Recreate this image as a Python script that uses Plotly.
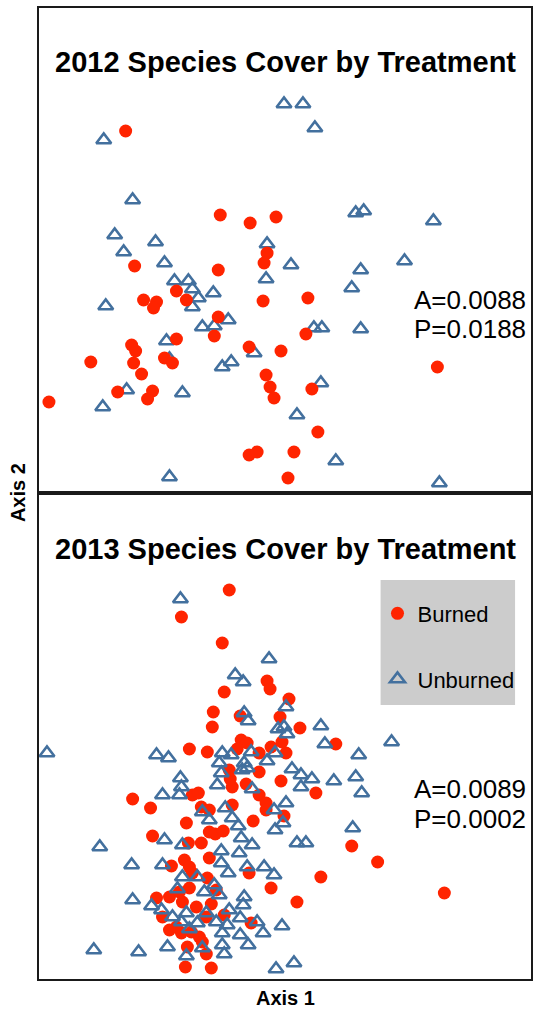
import plotly.graph_objects as go

# ---- 2012 NMDS scores (Axis 1, Axis 2) ----
burned_2012_x = [-1.60, -0.65, -0.35, -0.09, -0.18, -0.21, -1.51, -0.67, -1.09, -1.42, -1.29, -1.32,
                 -0.99, -0.22, -0.67, -0.71, -1.09, -1.54, -1.50, -1.52, -1.95, -1.21, -1.13, -0.36,
                 -0.04, -1.44, -0.19, -0.15, -0.11, -1.68, -1.33, -1.38, -2.37, -0.36, -0.28, 0.03,
                 0.23, 0.21, 1.53, 0.27, 0.33, 0.09]
burned_2012_y = [1.19, 0.35, 0.27, 0.33, -0.03, -0.13, -0.16, -0.20, -0.41, -0.50, -0.52, -0.58,
                 -0.50, -0.51, -0.67, -0.86, -0.89, -0.95, -1.01, -1.13, -1.12, -1.08, -1.13, -0.97,
                 -1.01, -1.24, -1.25, -1.37, -1.48, -1.42, -1.41, -1.49, -1.52, -2.05, -2.02, -2.28,
                 -0.48, -0.84, -1.17, -1.39, -1.82, -2.02]

unburned_2012_x = [-1.82, -0.01, 0.18, 0.30, -1.53, -1.71, -1.30, -0.18, -1.62, -1.21, 0.71, 0.79,
                   1.49, 0.06, 0.76, 1.20, -0.19, -1.11, -0.97, -0.93, -0.87, -0.93, -0.72, -1.80,
                   -0.83, -0.71, -0.57, -1.19, -1.16, -0.31, -0.63, -0.54, -1.59, -1.03, -1.83, -1.16,
                   0.67, 0.29, 0.37, 0.76, 0.36, 0.12, 0.51, 1.55]
unburned_2012_y = [1.10, 1.46, 1.46, 1.22, 0.50, 0.15, 0.08, 0.06, -0.02, -0.13, 0.37, 0.39,
                   0.29, -0.15, -0.20, -0.11, -0.29, -0.31, -0.31, -0.39, -0.48, -0.57, -0.43, -0.56,
                   -0.77, -0.76, -0.70, -0.91, -1.09, -1.03, -1.17, -1.12, -1.40, -1.43, -1.57, -2.27,
                   -0.38, -0.78, -0.78, -0.79, -1.33, -1.65, -2.11, -2.33]

# ---- 2013 NMDS scores (Axis 1, Axis 2) ----
burned_2013_x = [-0.56, -1.04, -0.63, -0.18, -0.15, -0.61, -0.72, -0.73, 0.04, -0.05, -0.45, -0.44,
                 -0.38, -0.48, -0.96, -0.78, -0.26, -0.14, -0.03, 0.01, 0.15, 0.51, -0.56, -0.26,
                 -0.53, -0.39, -0.04, 0.31, -0.26, -0.19, -0.55, -1.53, -1.35, -1.33, -0.93, -0.87,
                 -0.84, -0.76, -0.99, -0.97, -0.84, -0.76, -0.70, -0.62, -0.53, -0.32, -0.19, -0.01,
                 -1.14, -1.01, -0.96, -0.93, -0.76, -0.78, -0.69, -0.36, -0.14, 0.12, 0.36, 0.67,
                 0.93, 1.60, -1.29, -1.16, -1.03, -0.96, -0.89, -0.74, -1.23, -1.09, -1.16, -1.04,
                 -0.94, -0.86, -0.83, -0.98, -0.79, -0.61, -0.34, -1.00, -0.74, -0.79, -1.06]
burned_2013_y = [1.46, 1.19, 0.93, 0.55, 0.47, 0.44, 0.24, 0.09, 0.37, 0.19, 0.20, -0.04,
                 -0.07, -0.13, -0.13, -0.16, -0.17, -0.11, -0.06, -0.17, 0.08, -0.08, -0.34, -0.36,
                 -0.51, -0.48, -0.45, -0.57, -0.59, -0.67, -0.43, -0.63, -0.72, -1.00, -0.59, -0.57,
                 -0.71, -0.74, -0.87, -1.07, -1.07, -0.96, -0.98, -0.95, -0.69, -0.85, -0.74, -0.80,
                 -1.30, -1.24, -1.31, -1.37, -1.22, -1.42, -1.54, -1.37, -1.52, -1.66, -1.41, -1.10,
                 -1.26, -1.57, -1.62, -1.61, -1.66, -1.52, -1.71, -1.68, -1.81, -1.91, -1.94, -1.97,
                 -1.96, -2.01, -2.06, -2.11, -2.18, -1.79, -1.87, -2.31, -2.32, -1.81, -1.56]

unburned_2013_x = [-2.39, -1.05, -0.16, -0.50, -0.42, -0.41, -0.37, 0.01, -0.07, -0.01, 0.02, 0.36,
                   0.40, 0.74, 1.07, -1.29, -1.17, -0.63, -0.54, -0.34, -0.18, -0.10, -0.66, -0.41,
                   -0.38, -0.64, -0.68, -1.05, -1.04, -1.06, -1.23, -0.43, 0.07, 0.16, 0.16, 0.27,
                   0.49, 0.71, 0.77, 0.01, -0.02, -0.10, -0.11, 0.68, 0.12, 0.21, -0.03, 0.09,
                   -0.09, -1.86, -1.54, -1.23, -1.21, -1.03, -0.83, -0.76, -0.60, -0.53, -0.47, -0.44,
                   -0.33, -0.33, -0.46, -0.64, -0.64, -0.57, -0.38, -0.21, -0.11, -0.88, -1.03, -1.08,
                   -0.81, -0.71, -0.66, -0.41, -0.42, -0.45, -0.28, -0.22, -0.45, -0.37, -1.53, -1.34,
                   -1.24, -1.13, -1.04, -0.99, -0.88, -0.96, -0.79, -0.69, -0.58, -0.56, -0.63, -0.63,
                   -0.61, -0.83, -0.99, -1.18, -1.47, -1.92]
unburned_2013_y = [-0.17, 1.37, 0.77, 0.61, 0.54, 0.23, 0.15, 0.29, 0.07, 0.09, 0.02, 0.10,
                   -0.08, -0.19, -0.06, -0.19, -0.22, -0.17, -0.19, -0.16, -0.25, -0.17, -0.27, -0.27,
                   -0.32, -0.37, -0.49, -0.42, -0.51, -0.59, -0.59, -0.34, -0.33, -0.39, -0.51, -0.43,
                   -0.45, -0.41, -0.57, -0.67, -0.87, -0.94, -0.74, -0.92, -1.07, -1.07, -1.90, -2.27,
                   -2.33, -1.11, -1.29, -1.29, -1.04, -1.09, -0.76, -0.84, -0.72, -0.82, -0.90, -1.02,
                   -0.53, -1.09, -1.17, -1.15, -1.27, -1.37, -1.31, -1.31, -1.39, -1.41, -1.41, -1.53,
                   -1.56, -1.49, -1.59, -1.61, -1.69, -1.82, -1.86, -1.97, -1.99, -2.09, -1.64, -1.70,
                   -1.74, -1.81, -1.86, -1.77, -1.87, -1.93, -1.77, -1.86, -1.89, -1.74, -1.97, -2.09,
                   -2.18, -2.12, -2.20, -2.11, -2.16, -2.14]

titles = ["2012 Species Cover by Treatment", "2013 Species Cover by Treatment"]
stats_2012 = ["A=0.0088", "P=0.0188"]
stats_2013 = ["A=0.0089", "P=0.0002"]
series_names = ["Burned", "Unburned"]

RED = "#ff2400"
BLUE = "#43709e"
FONT = "Liberation Sans, Arial, sans-serif"

burned_marker = dict(symbol="circle", size=13, color=RED, line=dict(width=0))
unburned_marker = dict(symbol="triangle-up-open", size=13, color=BLUE, line=dict(width=2.6, color=BLUE))

fig = go.Figure()
# 2012 (top panel)
fig.add_trace(go.Scatter(x=unburned_2012_x, y=unburned_2012_y, mode="markers", xaxis="x2", yaxis="y2",
                         marker=unburned_marker, name=series_names[1], showlegend=False))
fig.add_trace(go.Scatter(x=burned_2012_x, y=burned_2012_y, mode="markers", xaxis="x2", yaxis="y2",
                         marker=burned_marker, name=series_names[0], showlegend=False))
# 2013 (bottom panel)
fig.add_trace(go.Scatter(x=burned_2013_x, y=burned_2013_y, mode="markers", xaxis="x", yaxis="y",
                         marker=burned_marker, name=series_names[0], legendgroup="b", legendrank=1))
fig.add_trace(go.Scatter(x=unburned_2013_x, y=unburned_2013_y, mode="markers", xaxis="x", yaxis="y",
                         marker=unburned_marker, name=series_names[1], legendgroup="u", legendrank=2))

axis_common = dict(showgrid=False, zeroline=False, showticklabels=False, ticks="",
                   showline=True, mirror=True, linecolor="#1a1a1a", linewidth=2)
split = 486 / 971
fig.update_layout(
    width=538, height=1013,
    margin=dict(l=39, r=5, t=8, b=34),
    paper_bgcolor="white", plot_bgcolor="white",
    xaxis=dict(domain=[0, 1], anchor="y", range=[-2.47, 2.47], **axis_common),
    yaxis=dict(domain=[0, split], anchor="x", range=[-2.43, 2.43], **axis_common),
    xaxis2=dict(domain=[0, 1], anchor="y2", range=[-2.47, 2.47], **axis_common),
    yaxis2=dict(domain=[split, 1], anchor="x2", range=[-2.43, 2.42], **axis_common),
    showlegend=True,
    legend=dict(x=0.688, y=0.398, xanchor="left", yanchor="top", bgcolor="rgba(0,0,0,0)",
                font=dict(family=FONT, size=22, color="black"), tracegroupgap=34,
                traceorder="grouped", itemwidth=30),
    shapes=[dict(type="rect", xref="paper", yref="paper", x0=0.6943, x1=0.9676, y0=0.2822, y1=0.4109,
                 fillcolor="#cccccc", line=dict(width=0), layer="above")],
)

ann = []
# panel titles
for title, ty in zip(titles, [0.9444, 0.4428]):
    ann.append(dict(text=f"<b>{title}</b>", xref="paper", yref="paper", x=0.5, y=ty,
                    showarrow=False, xanchor="center", yanchor="middle",
                    font=dict(family=FONT, size=29, color="black")))
# stats
for t, yv in zip(stats_2012, [-0.50, -0.79]):
    ann.append(dict(text=t, xref="x2", yref="y2", x=2.44, y=yv, showarrow=False,
                    xanchor="right", yanchor="middle", font=dict(family=FONT, size=26, color="black")))
for t, yv in zip(stats_2013, [-0.53, -0.83]):
    ann.append(dict(text=t, xref="x", yref="y", x=2.44, y=yv, showarrow=False,
                    xanchor="right", yanchor="middle", font=dict(family=FONT, size=26, color="black")))
# axis titles
ann.append(dict(text="<b>Axis 1</b>", xref="paper", yref="paper", x=0.5, y=-0.0196, showarrow=False,
                xanchor="center", yanchor="middle", font=dict(family=FONT, size=20, color="black")))
ann.append(dict(text="<b>Axis 2</b>", xref="paper", yref="paper", x=-0.0425, y=split, showarrow=False,
                textangle=-90, xanchor="center", yanchor="middle", font=dict(family=FONT, size=20, color="black")))
fig.update_layout(annotations=ann)

fig.write_html("out.html")
